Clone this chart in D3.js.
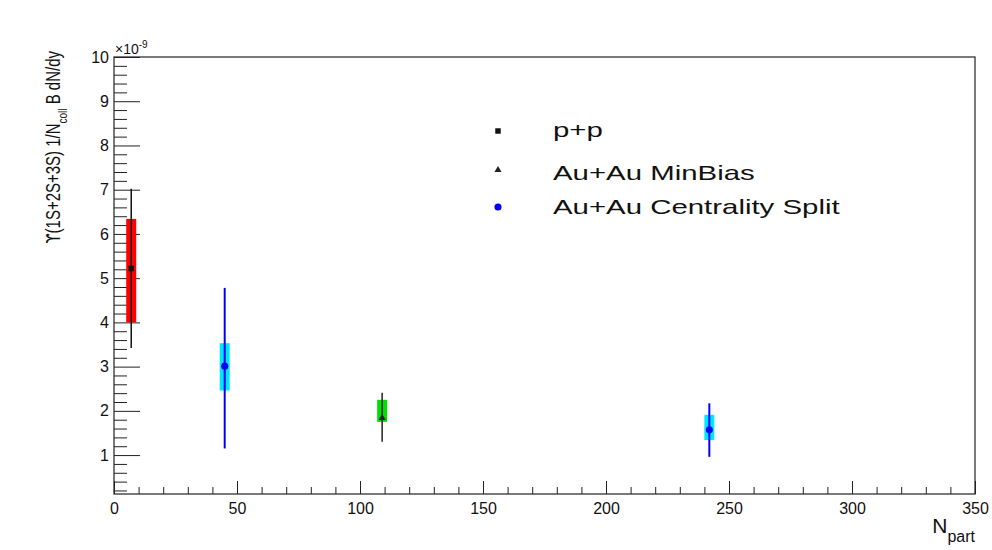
<!DOCTYPE html>
<html>
<head>
<meta charset="utf-8">
<script src="https://cdn.jsdelivr.net/npm/d3@7"></script>
<style>
  body { margin: 0; background: #fff; }
  text { font-family: "Liberation Sans", Arial, Helvetica, sans-serif; fill: #111; }
</style>
</head>
<body>
<svg id="chart" width="992" height="550"></svg>
<script>
// Upsilon(1S+2S+3S) yield per binary collision vs. number of participants
const seriesNames = ["p+p", "Au+Au MinBias", "Au+Au Centrality Split"];

// one entry per measured point
const npart      = [7, 109, 45, 242];
const upsYield   = [5.22, 1.84, 3.01, 1.57];   // central value (x10^-9)
const statLow    = [3.42, 1.30, 1.15, 0.96];
const statHigh   = [7.02, 2.41, 4.78, 2.17];
const sysLow     = [4.00, 1.75, 2.46, 1.34];
const sysHigh    = [6.34, 2.25, 3.53, 1.91];
const pointSeries = [0, 1, 2, 2];

const xTickValues = [0, 50, 100, 150, 200, 250, 300, 350];
const yTickValues = [1, 2, 3, 4, 5, 6, 7, 8, 9, 10];

// styling per series
const boxColor    = ["#ff0000", "#00e000", "#00e8ff"];
const lineColor   = ["#111111", "#222222", "#0000ff"];
const markerColor = ["#111111", "#222222", "#0000ff"];
const markerShape = [d3.symbolSquare, d3.symbolTriangle, d3.symbolCircle];
const markerSize  = [30, 22, 40];

const svg = d3.select("#chart");
const frame = { left: 114, right: 975, top: 57, bottom: 494 };

const x = d3.scaleLinear().domain([0, 350]).range([frame.left, frame.right]);
const y = d3.scaleLinear().domain([0.12, 10]).range([frame.bottom, frame.top]);

// x axis: major + minor ticks pointing into the frame
const xMinor = d3.range(0, 351, 10).filter(v => v % 50 !== 0);
svg.append("g")
  .attr("transform", `translate(0,${frame.bottom})`)
  .call(d3.axisBottom(x).tickValues(xMinor).tickSize(-7).tickFormat(""))
  .call(g => g.select(".domain").remove())
  .call(g => g.selectAll("line").attr("stroke", "#222"));
svg.append("g")
  .attr("transform", `translate(0,${frame.bottom})`)
  .call(d3.axisBottom(x).tickValues(xTickValues).tickSize(-13).tickPadding(8.5).tickFormat(d3.format("d")))
  .call(g => g.select(".domain").remove())
  .call(g => g.selectAll("line").attr("stroke", "#222"))
  .call(g => g.selectAll("text").attr("font-size", 16).attr("fill", "#111"));

// y axis
const yMinor = d3.range(2, 100, 1).map(v => v / 10).filter(v => (Math.round(v * 10) % 2 === 0) && (Math.round(v * 10) % 10 !== 0));
svg.append("g")
  .attr("transform", `translate(${frame.left},0)`)
  .call(d3.axisLeft(y).tickValues(yMinor).tickSize(-13).tickFormat(""))
  .call(g => g.select(".domain").remove())
  .call(g => g.selectAll("line").attr("stroke", "#222"));
svg.append("g")
  .attr("transform", `translate(${frame.left},0)`)
  .call(d3.axisLeft(y).tickValues(yTickValues).tickSize(-26).tickPadding(5).tickFormat(d3.format("d")))
  .call(g => g.select(".domain").remove())
  .call(g => g.selectAll("line").attr("stroke", "#222"))
  .call(g => g.selectAll("text").attr("font-size", 16).attr("fill", "#111"));

// frame
svg.append("rect")
  .attr("x", frame.left).attr("y", frame.top)
  .attr("width", frame.right - frame.left).attr("height", frame.bottom - frame.top)
  .attr("fill", "none").attr("stroke", "#222").attr("stroke-width", 1.2);

// axis exponent
const expo = svg.append("text").attr("x", frame.left + 1).attr("y", frame.top - 3).attr("font-size", 14);
expo.append("tspan").text("\u00d710");
expo.append("tspan").attr("dy", -6).attr("font-size", 10).text("-9");

// points: systematic box, statistical bar, marker
const idx = d3.range(npart.length);
const pts = svg.append("g");
idx.forEach(i => {
  const s = pointSeries[i];
  const cx = x(npart[i]);
  pts.append("rect")
    .attr("x", cx - 5).attr("width", 10)
    .attr("y", y(sysHigh[i])).attr("height", y(sysLow[i]) - y(sysHigh[i]))
    .attr("fill", boxColor[s]);
  pts.append("line")
    .attr("x1", cx).attr("x2", cx)
    .attr("y1", y(statLow[i])).attr("y2", y(statHigh[i]))
    .attr("stroke", lineColor[s]).attr("stroke-width", s === 2 ? 2 : 1.5);
  pts.append("path")
    .attr("transform", `translate(${cx},${y(upsYield[i])})`)
    .attr("d", d3.symbol().type(markerShape[s]).size(markerSize[s])())
    .attr("fill", markerColor[s]);
});

// legend
const legendMarkY = [131, 170, 207];
const legendTextY = [137, 180, 214];
const legend = svg.append("g");
seriesNames.forEach((name, s) => {
  legend.append("path")
    .attr("transform", `translate(498,${legendMarkY[s]})`)
    .attr("d", d3.symbol().type(markerShape[s]).size(markerSize[s])())
    .attr("fill", markerColor[s]);
  legend.append("text")
    .attr("transform", `translate(553,${legendTextY[s]}) scale(1.4,1)`)
    .attr("font-size", 21)
    .text(name);
});

// x axis title
const xt = svg.append("text").attr("text-anchor", "end")
  .attr("transform", `translate(${frame.right},533)`);
xt.append("tspan").attr("font-size", 21).text("N");
xt.append("tspan").attr("font-size", 16).attr("dy", 9).text("part");

// y axis title
const yt = svg.append("text").attr("text-anchor", "end")
  .attr("transform", `translate(60,51) scale(1.35,1) rotate(-90)`)
  .attr("font-size", 15);
yt.append("tspan").style("font-family", "'DejaVu Sans', sans-serif").text("\u03d2");
yt.append("tspan").text("(1S+2S+3S) 1/N");
yt.append("tspan").attr("font-size", 10).attr("dy", 5).text("coll");
yt.append("tspan").attr("dy", -5).text(" B dN/dy");
</script>
</body>
</html>
